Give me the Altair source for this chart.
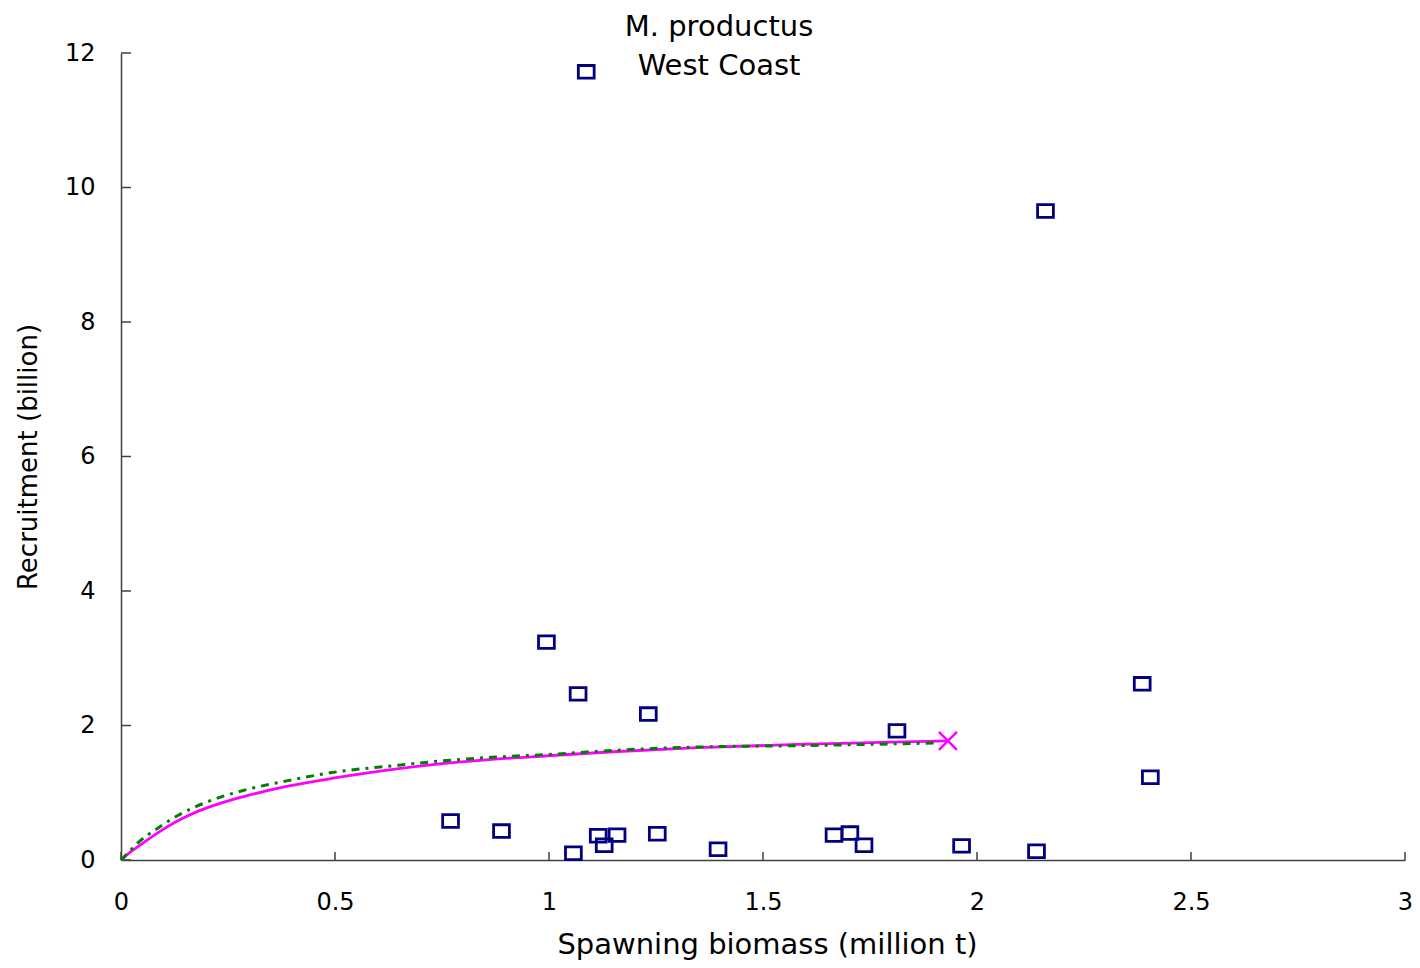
import altair as alt
import pandas as pd

# observed stock-recruitment points (million t, billion)
obs_s = [1.087, 2.160, 0.994, 1.068, 1.232, 1.813, 2.386, 2.405, 0.770, 0.889,
         1.057, 1.115, 1.129, 1.159, 1.253, 1.395, 1.666, 1.703, 1.736, 1.964, 2.139]
obs_r = [11.72, 9.65, 3.24, 2.47, 2.17, 1.92, 2.62, 1.23, 0.58, 0.43,
         0.10, 0.36, 0.22, 0.37, 0.39, 0.16, 0.37, 0.40, 0.22, 0.21, 0.13]

# fitted curve (solid magenta)
fit1_s = [0, 0.02, 0.042, 0.085, 0.135, 0.182, 0.235, 0.291, 0.384, 0.499, 0.649,
          0.874, 0.998, 1.15, 1.348, 1.582, 1.75, 1.932]
fit1_r = [0, 0.11, 0.21, 0.40, 0.59, 0.73, 0.85, 0.95, 1.09, 1.22, 1.36,
          1.50, 1.55, 1.61, 1.67, 1.72, 1.745, 1.77]

# second curve (green dash-dot)
fit2_s = [0, 0.011, 0.042, 0.085, 0.135, 0.2, 0.283, 0.39, 0.493, 0.649, 0.726,
          0.874, 1.0, 1.15, 1.348, 1.58, 1.75, 1.908]
fit2_r = [0, 0.07, 0.27, 0.47, 0.67, 0.86, 1.03, 1.18, 1.30, 1.41, 1.46,
          1.53, 1.57, 1.63, 1.68, 1.70, 1.72, 1.74]

# end-point marker
end_s = [1.932]
end_r = [1.77]

x_ticks = [0, 0.5, 1, 1.5, 2, 2.5, 3]
y_ticks = [0, 2, 4, 6, 8, 10, 12]

title_lines = ["M. productus", "West Coast"]
x_title = "Spawning biomass (million t)"
y_title = "Recruitment (billion)"

W, H = 1284, 807
FONT = "DejaVu Sans"
AXC = "#404040"

obs = pd.DataFrame({"x": obs_s, "y": obs_r})
f1 = pd.DataFrame({"x": fit1_s, "y": fit1_r})
f2 = pd.DataFrame({"x": fit2_s, "y": fit2_r})
endp = pd.DataFrame({"x": end_s, "y": end_r})
xt = pd.DataFrame({"x": x_ticks})
yt = pd.DataFrame({"y": y_ticks})

xaxis = alt.Axis(values=x_ticks, grid=False, ticks=False, tickSize=0, labelFlush=False,
                 labelOverlap=False, labelFont=FONT, labelFontSize=24, labelColor="black",
                 labelPadding=30, labelBaseline="top", domainColor=AXC, domainWidth=1.5,
                 titleFont=FONT, titleFontSize=29, titleFontWeight="normal", titleColor="black",
                 titleBaseline="alphabetic", titleX=646, titleY=93, format="~g")
yaxis = alt.Axis(values=y_ticks, grid=False, ticks=False, tickSize=0, labelOverlap=False,
                 labelFont=FONT, labelFontSize=24, labelColor="black", labelPadding=26,
                 domainColor=AXC, domainWidth=1.5,
                 titleFont=FONT, titleFontSize=26, titleFontWeight="normal", titleColor="black",
                 titleBaseline="alphabetic", titleAngle=270, titleX=-85, titleY=403.5)

xs = alt.Scale(domain=[0, 3], nice=False, zero=False)
ys = alt.Scale(domain=[0, 12], nice=False, zero=False)
X = alt.X("x:Q", scale=xs, axis=xaxis, title=x_title)
Y = alt.Y("y:Q", scale=ys, axis=yaxis, title=y_title)

rect_path = "M-1,-0.8L1,-0.8L1,0.8L-1,0.8Z"
x_path = "M-1,-1L1,1M-1,1L1,-1"

pts = alt.Chart(obs).mark_point(shape=rect_path, filled=False, color="#000080",
                                strokeWidth=2.8, size=250, opacity=1).encode(x=X, y=Y)
line1 = alt.Chart(f1).mark_line(color="#FF00FF", strokeWidth=2.8,
                                interpolate="monotone").encode(x=X, y=Y, order="x:Q")
line2 = alt.Chart(f2).mark_line(color="#007F00", strokeWidth=3, strokeDash=[8, 6, 3, 6],
                                interpolate="monotone").encode(x=X, y=Y, order="x:Q")
endm = alt.Chart(endp).mark_point(shape=x_path, filled=False, color="#FF00FF",
                                  strokeWidth=2.5, size=324, opacity=1).encode(x=X, y=Y)
xtick = alt.Chart(xt).mark_rule(color=AXC, strokeWidth=1.5).encode(
    x=X, y=alt.value(H), y2=alt.value(H - 8))
ytick = alt.Chart(yt).mark_rule(color=AXC, strokeWidth=1.5).encode(
    y=Y, x=alt.value(0), x2=alt.value(10))

chart = alt.layer(xtick, ytick, line1, line2, endm, pts).properties(
    width=W, height=H,
    title=alt.TitleParams(text=title_lines, font=FONT, fontSize=29, fontWeight="normal",
                          color="black", lineHeight=39, anchor="middle", frame="group",
                          dx=-44, offset=-69, baseline="bottom"),
    autosize=alt.AutoSizeParams(type="none"),
    padding={"left": 113, "top": 45, "right": 7, "bottom": 100},
).configure_view(stroke=None)

chart.save("out.html", embed_options={"renderer": "svg", "actions": False})
